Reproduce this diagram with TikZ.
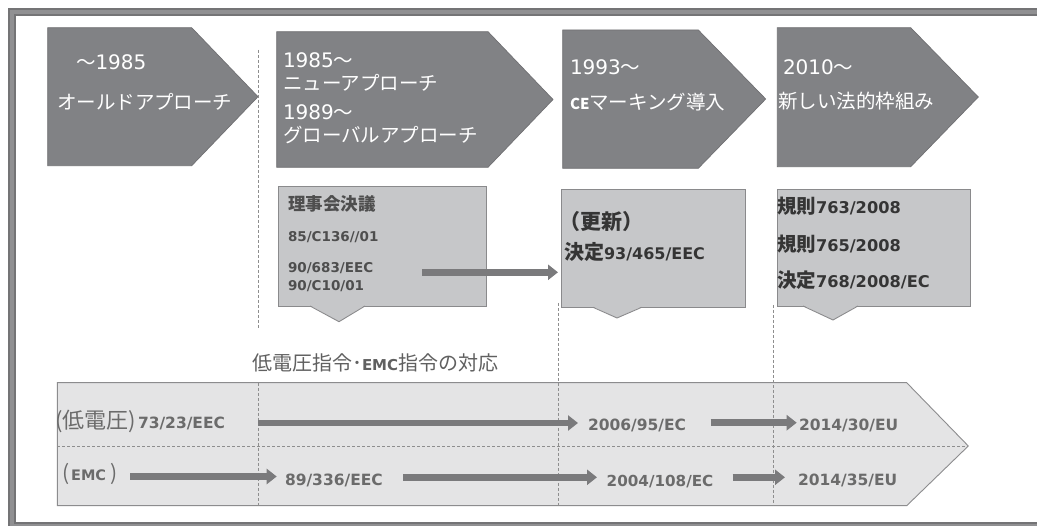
\documentclass[tikz,border=0pt]{standalone}
\usepackage{fontspec}
\usetikzlibrary{arrows.meta}
\newfontfamily\jpf{Noto Sans CJK JP}
\newfontfamily\dvf{DejaVu Sans}
\newcommand\fsz[1]{\fontsize{#1}{#1}\selectfont}
\definecolor{framec}{HTML}{747476}
\definecolor{framel}{HTML}{909092}
\definecolor{pentac}{HTML}{818285}
\definecolor{pentab}{HTML}{707073}
\definecolor{callc}{HTML}{C6C7C9}
\definecolor{callb}{HTML}{8A8A8C}
\definecolor{bandc}{HTML}{E4E4E5}
\definecolor{bandb}{HTML}{8C8C8E}
\definecolor{arrc}{HTML}{7A7A7C}
\definecolor{dashc}{HTML}{8E8E8E}
\definecolor{btxt}{HTML}{6B6B6B}
\definecolor{ttxt}{HTML}{606060}
\definecolor{bonetxt}{HTML}{4E4E4E}
\definecolor{btwotxt}{HTML}{353535}
\begin{document}
\begin{tikzpicture}[x=1pt,y=-1pt,
  txt/.style={inner sep=0pt,outer sep=0pt,anchor=west},
  wt/.style={txt,text=white,font=\jpf\fsz{19.5}},
  pent/.style={fill=pentac,draw=pentab,line width=0.7pt},
  callbox/.style={fill=callc,draw=callb,line width=0.9pt,inner sep=0pt,outer sep=0pt,anchor=north west},
  vdash/.style={draw=dashc,line width=0.8pt,dash pattern=on 3pt off 2pt},
  barrow/.style={draw=arrc,line width=6.5pt,-{Triangle[length=10pt,width=15pt]}},
  bt/.style={txt,text=btxt,font=\dvf\bfseries\fsz{15.5}},
  bonelat/.style={txt,text=bonetxt,font=\dvf\bfseries\fsz{13.5}},
]
\useasboundingbox (0,0) rectangle (1037,526);
\fill[white] (0,0) rectangle (1037,526);
\begin{scope}
  \clip (0,0) rectangle (1037,526);
  \draw[framec,line width=8pt] (12,12) rectangle (1060,526);
  \draw[framel,line width=4pt] (12,12) rectangle (1060,526);
\end{scope}

% top pentagons
\draw[pent] (47.7,27.7) -- (191.7,27.7) -- (258,96.7) -- (191.7,165.7) -- (47.7,165.7) -- cycle;
\draw[pent] (276.7,31.7) -- (488,31.7) -- (553,99.5) -- (488,167.3) -- (276.7,167.3) -- cycle;
\draw[pent] (562.7,30) -- (698.3,30) -- (765.7,99) -- (698.3,168.3) -- (562.7,168.3) -- cycle;
\draw[pent] (777.3,27.7) -- (910.7,27.7) -- (978.3,97) -- (910.7,166.7) -- (777.3,166.7) -- cycle;

% callouts
\node[callbox,minimum width=208.7pt,minimum height=119.3pt] (box1) at (278,186.7) {};
\fill[callc] (310,305.4) -- (339,321.7) -- (365,305.4) -- cycle;
\draw[callb,line width=0.9pt] (310,306) -- (339,321.7) -- (365,306);
\node[callbox,minimum width=183.3pt,minimum height=118pt] (box2) at (561.7,189.3) {};
\fill[callc] (593,306.7) -- (617,318) -- (641.7,306.7) -- cycle;
\draw[callb,line width=0.9pt] (593,307.3) -- (617,318) -- (641.7,307.3);
\node[callbox,minimum width=192.7pt,minimum height=116.7pt] (box3) at (777.3,189.3) {};
\fill[callc] (803,305.4) -- (833,320) -- (858,305.4) -- cycle;
\draw[callb,line width=0.9pt] (803,306) -- (833,320) -- (858,306);

% band
\draw[fill=bandc,draw=bandb,line width=0.9pt] (57.3,382.7) -- (906.7,382.7) -- (968.3,446) -- (906.7,505.7) -- (57.3,505.7) -- cycle;
\draw[vdash] (57.3,446) -- (968.3,446);
\draw[vdash] (258,50) -- (258,328);
\draw[vdash] (258,383) -- (258,505.7);
\draw[vdash] (558,303) -- (558,505.7);
\draw[vdash] (773,305) -- (773,505.7);

% top texts
\node[wt] (p1a) at (76,62.5) {～{\dvf\fsz{20}1985}};
\node[wt] (p1b) at (57,102) {オールドアプローチ};
\node[wt] (p2a) at (283,60) {{\dvf\fsz{20}1985}～};
\node[wt] (p2b) at (283,83) {ニューアプローチ};
\node[wt] (p2c) at (283,112) {{\dvf\fsz{20}1989}～};
\node[wt] (p2d) at (283,135) {グローバルアプローチ};
\node[wt] (p3a) at (570,67) {{\dvf\fsz{20}1993}～};
\node[wt] (p3b) at (570,102.5) {{\bfseries\fsz{15}CE}マーキング導入};
\node[wt] (p4a) at (783,67) {{\dvf\fsz{20}2010}～};
\node[wt] (p4b) at (778,101.5) {新しい法的枠組み};

% box texts
\node[txt,text=bonetxt,font=\jpf\bfseries\fsz{17.5}] (b1a) at (288,203.5) {理事会決議};
\node[bonelat] (b1b) at (288,237) {85/C136//01};
\node[bonelat] (b1c) at (288,268.5) {90/683/EEC};
\node[bonelat] (b1d) at (288,286) {90/C10/01};

\node[txt,text=btwotxt,font=\jpf\bfseries\fsz{21}] (b2a) at (559,221.5) {（更新）};
\node[txt,text=btwotxt] (b2b) at (564,252) {{\jpf\bfseries\fsz{20}決定}{\dvf\bfseries\fsz{16}93/465/EEC}};

\node[txt,text=btwotxt] (b3a) at (777,206.5) {{\jpf\bfseries\fsz{19.5}規則}{\dvf\bfseries\fsz{16.2}763/2008}};
\node[txt,text=btwotxt] (b3b) at (777,244) {{\jpf\bfseries\fsz{19.5}規則}{\dvf\bfseries\fsz{16.2}765/2008}};
\node[txt,text=btwotxt] (b3c) at (777,280) {{\jpf\bfseries\fsz{19.5}決定}{\dvf\bfseries\fsz{16.2}768/2008/EC}};

\coordinate (c12) at (422,272.3);
\draw[barrow,shorten >=3.7pt] (c12) -- (c12 -| box2.west);

% band texts
\node[txt,text=ttxt] (title) at (252,363) {\jpf\fsz{20}低電圧指令･{\dvf\bfseries\fsz{15}EMC}指令の対応};
\node[txt,text=btxt,font=\jpf\fsz{22}] (lvl) at (55,421) {(低電圧)};
\node[bt] (lv0) at (138,423.5) {73/23/EEC};
\node[bt] (lv1) at (588,425) {2006/95/EC};
\node[bt] (lv2) at (799,425) {2014/30/EU};
\node[txt,text=btxt] (eml) at (62,474) {{\jpf\fsz{21}(}\kern2pt{\dvf\bfseries\fsz{14.5}EMC}\kern4pt{\jpf\fsz{21})}};
\node[bt] (em0) at (285,480) {89/336/EEC};
\node[bt,font=\dvf\bfseries\fsz{15.2}] (em1) at (606.7,481.5) {2004/108/EC};
\node[bt] (em2) at (798,480) {2014/35/EU};

\coordinate (r1s) at (258,423);
\draw[barrow,shorten >=10pt] (r1s) -- (r1s -| lv1.west);
\coordinate (r1t) at (710.7,422.7);
\draw[barrow,shorten >=2.3pt] (r1t) -- (r1t -| lv2.west);
\coordinate (r2s) at (130,476.5);
\draw[barrow,shorten >=8.3pt] (r2s) -- (r2s -| em0.west);
\coordinate (r2t) at (403,477.3);
\draw[barrow,shorten >=9.7pt] (r2t) -- (r2t -| em1.west);
\coordinate (r2u) at (732.7,477.3);
\draw[barrow,shorten >=13pt] (r2u) -- (r2u -| em2.west);
\end{tikzpicture}
\end{document}
